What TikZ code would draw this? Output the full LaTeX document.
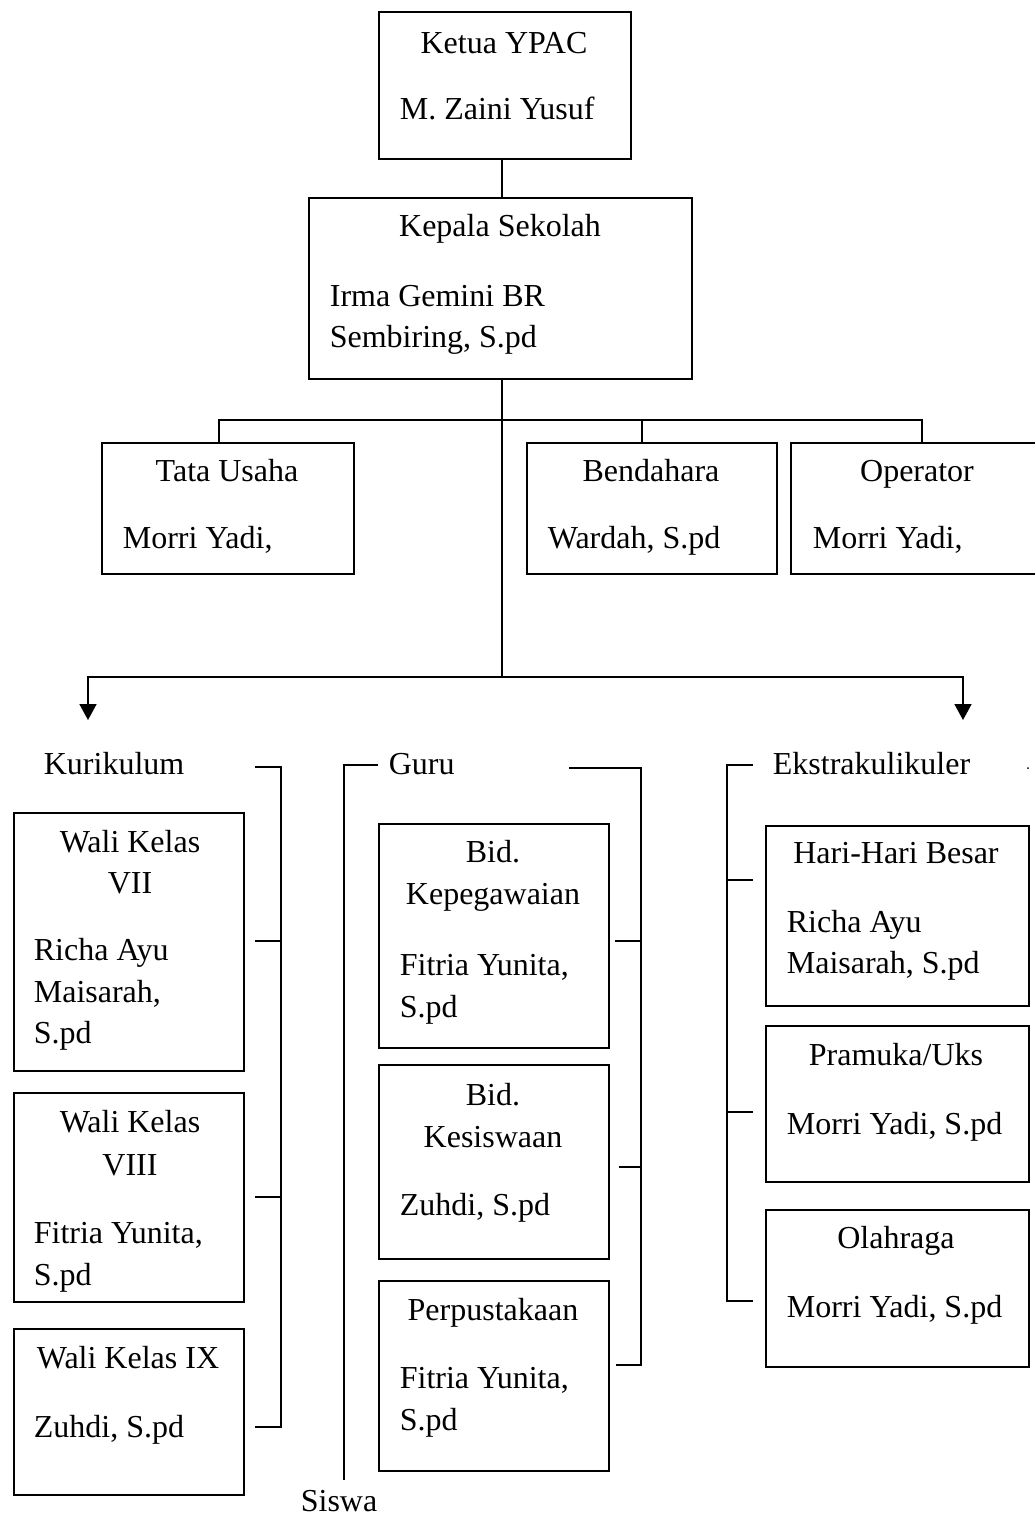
\documentclass[tikz,border=0pt]{standalone}
\usepackage{fontspec}
\setmainfont{Liberation Serif}
\usetikzlibrary{arrows.meta}
\begin{document}
\begin{tikzpicture}[x=1pt,y=-1pt,line width=1.7pt,
    orgbox/.style={draw,anchor=north west,inner sep=0pt},
    lbl/.style={inner sep=0pt,font=\fontsize{32}{38}\selectfont},
    lblc/.style={lbl,anchor=base},
    lbll/.style={lbl,anchor=base west},
    arr/.style={-{Triangle[width=17pt,length=16pt]}}]
    \useasboundingbox (0,0) rectangle (1034,1516);
    % boxes
    \node[orgbox,minimum width=252pt,minimum height=147pt] (ketua) at (378,11) {};
    \node[orgbox,minimum width=383pt,minimum height=181pt] (kepala) at (308,197) {};
    \node[orgbox,minimum width=252pt,minimum height=131pt] (tata) at (101,442) {};
    \node[orgbox,minimum width=250pt,minimum height=131pt] (bendahara) at (526,442) {};
    \node[orgbox,minimum width=250pt,minimum height=131pt] (operator) at (790,442) {};
    \node[orgbox,minimum width=230pt,minimum height=258pt] (wali7) at (13,812) {};
    \node[orgbox,minimum width=230pt,minimum height=209pt] (wali8) at (13,1092) {};
    \node[orgbox,minimum width=230pt,minimum height=166pt] (wali9) at (13,1328) {};
    \node[orgbox,minimum width=230pt,minimum height=224pt] (bidpeg) at (378,823) {};
    \node[orgbox,minimum width=230pt,minimum height=194pt] (bidsis) at (378,1064) {};
    \node[orgbox,minimum width=230pt,minimum height=190pt] (perpus) at (378,1280) {};
    \node[orgbox,minimum width=263pt,minimum height=180pt] (hari) at (765,825) {};
    \node[orgbox,minimum width=263pt,minimum height=156pt] (pramuka) at (765,1025) {};
    \node[orgbox,minimum width=263pt,minimum height=157pt] (olahraga) at (765,1209) {};
    % texts
    \node[lblc] (ketuaT) at (504,53) {Ketua YPAC};
    \node[lbll] (ketuaN) at (399,119) {M. Zaini Yusuf};
    \node[lblc] (kepalaT) at (500,236) {Kepala Sekolah};
    \node[lbll] (kepalaN) at (329,306) {Irma Gemini BR};
    \node[lbll] (kepalaN2) at (329,347) {Sembiring, S.pd};
    \node[lblc] (tataT) at (227,481) {Tata Usaha};
    \node[lbll] (tataN) at (122,548) {Morri Yadi,};
    \node[lblc] (bendaharaT) at (651,481) {Bendahara};
    \node[lbll] (bendaharaN) at (547,548) {Wardah, S.pd};
    \node[lblc] (operatorT) at (917,481) {Operator};
    \node[lbll] (operatorN) at (812,548) {Morri Yadi,};
    \node[lbll] (kurikulum) at (43,774) {Kurikulum};
    \node[lbll] (guru) at (388,774) {Guru};
    \node[lbll] (ekstra) at (772,774) {Ekstrakulikuler};
    \node[lbll] (siswa) at (300,1511) {Siswa};
    \node[lblc] (wali7T) at (130,852) {Wali Kelas};
    \node[lblc] (wali7T2) at (130,893) {VII};
    \node[lbll] (wali7N) at (33,960) {Richa Ayu};
    \node[lbll] (wali7N2) at (33,1002) {Maisarah,};
    \node[lbll] (wali7N3) at (33,1043) {S.pd};
    \node[lblc] (wali8T) at (130,1132) {Wali Kelas};
    \node[lblc] (wali8T2) at (130,1175) {VIII};
    \node[lbll] (wali8N) at (33,1243) {Fitria Yunita,};
    \node[lbll] (wali8N2) at (33,1285) {S.pd};
    \node[lblc] (wali9T) at (128,1368) {Wali Kelas IX};
    \node[lbll] (wali9N) at (33,1437) {Zuhdi, S.pd};
    \node[lblc] (bidpegT) at (493,862) {Bid.};
    \node[lblc] (bidpegT2) at (493,904) {Kepegawaian};
    \node[lbll] (bidpegN) at (399,975) {Fitria Yunita,};
    \node[lbll] (bidpegN2) at (399,1017) {S.pd};
    \node[lblc] (bidsisT) at (493,1105) {Bid.};
    \node[lblc] (bidsisT2) at (493,1147) {Kesiswaan};
    \node[lbll] (bidsisN) at (399,1215) {Zuhdi, S.pd};
    \node[lblc] (perpusT) at (493,1320) {Perpustakaan};
    \node[lbll] (perpusN) at (399,1388) {Fitria Yunita,};
    \node[lbll] (perpusN2) at (399,1430) {S.pd};
    \node[lblc] (hariT) at (896,863) {Hari-Hari Besar};
    \node[lbll] (hariN) at (786,932) {Richa Ayu};
    \node[lbll] (hariN2) at (786,973) {Maisarah, S.pd};
    \node[lblc] (pramukaT) at (896,1065) {Pramuka/Uks};
    \node[lbll] (pramukaN) at (786,1134) {Morri Yadi, S.pd};
    \node[lblc] (olahragaT) at (896,1248) {Olahraga};
    \node[lbll] (olahragaN) at (786,1317) {Morri Yadi, S.pd};
    % connectors
    \coordinate (staff) at (502,420);
    \coordinate (split) at (502,677);
    \coordinate (kurTip) at (88,720);
    \coordinate (ekTip) at (963,720);
    \draw (ketua.south -| staff) -- (kepala.north -| staff);
    \draw (kepala.south -| staff) -- (split);
    \draw ([xshift=-9pt]tata.north) |- ([xshift=6pt]operator.north |- staff) -- ([xshift=6pt]operator.north);
    \draw ([xshift=-10pt]bendahara.north) -- ([xshift=-10pt]bendahara.north |- staff);
    \draw[arr] (split) -| (kurTip);
    \draw[arr] (split) -| (ekTip);
    % brackets
    \draw (255,767) -| (281,1427) -- (255,1427);
    \draw (255,941) -- (281,941);
    \draw (255,1197) -- (281,1197);
    \draw (378,765) -| (344,1480);
    \draw (569,768) -| (641,1365) -- (616,1365);
    \draw (615,941) -- (641,941);
    \draw (619,1167) -- (641,1167);
    \draw (753,765) -| (727,1301) -- (753,1301);
    \draw (727,880) -- (753,880);
    \draw (727,1112) -- (753,1112);
    \fill (1028,768) circle (1pt);
\end{tikzpicture}
\end{document}
